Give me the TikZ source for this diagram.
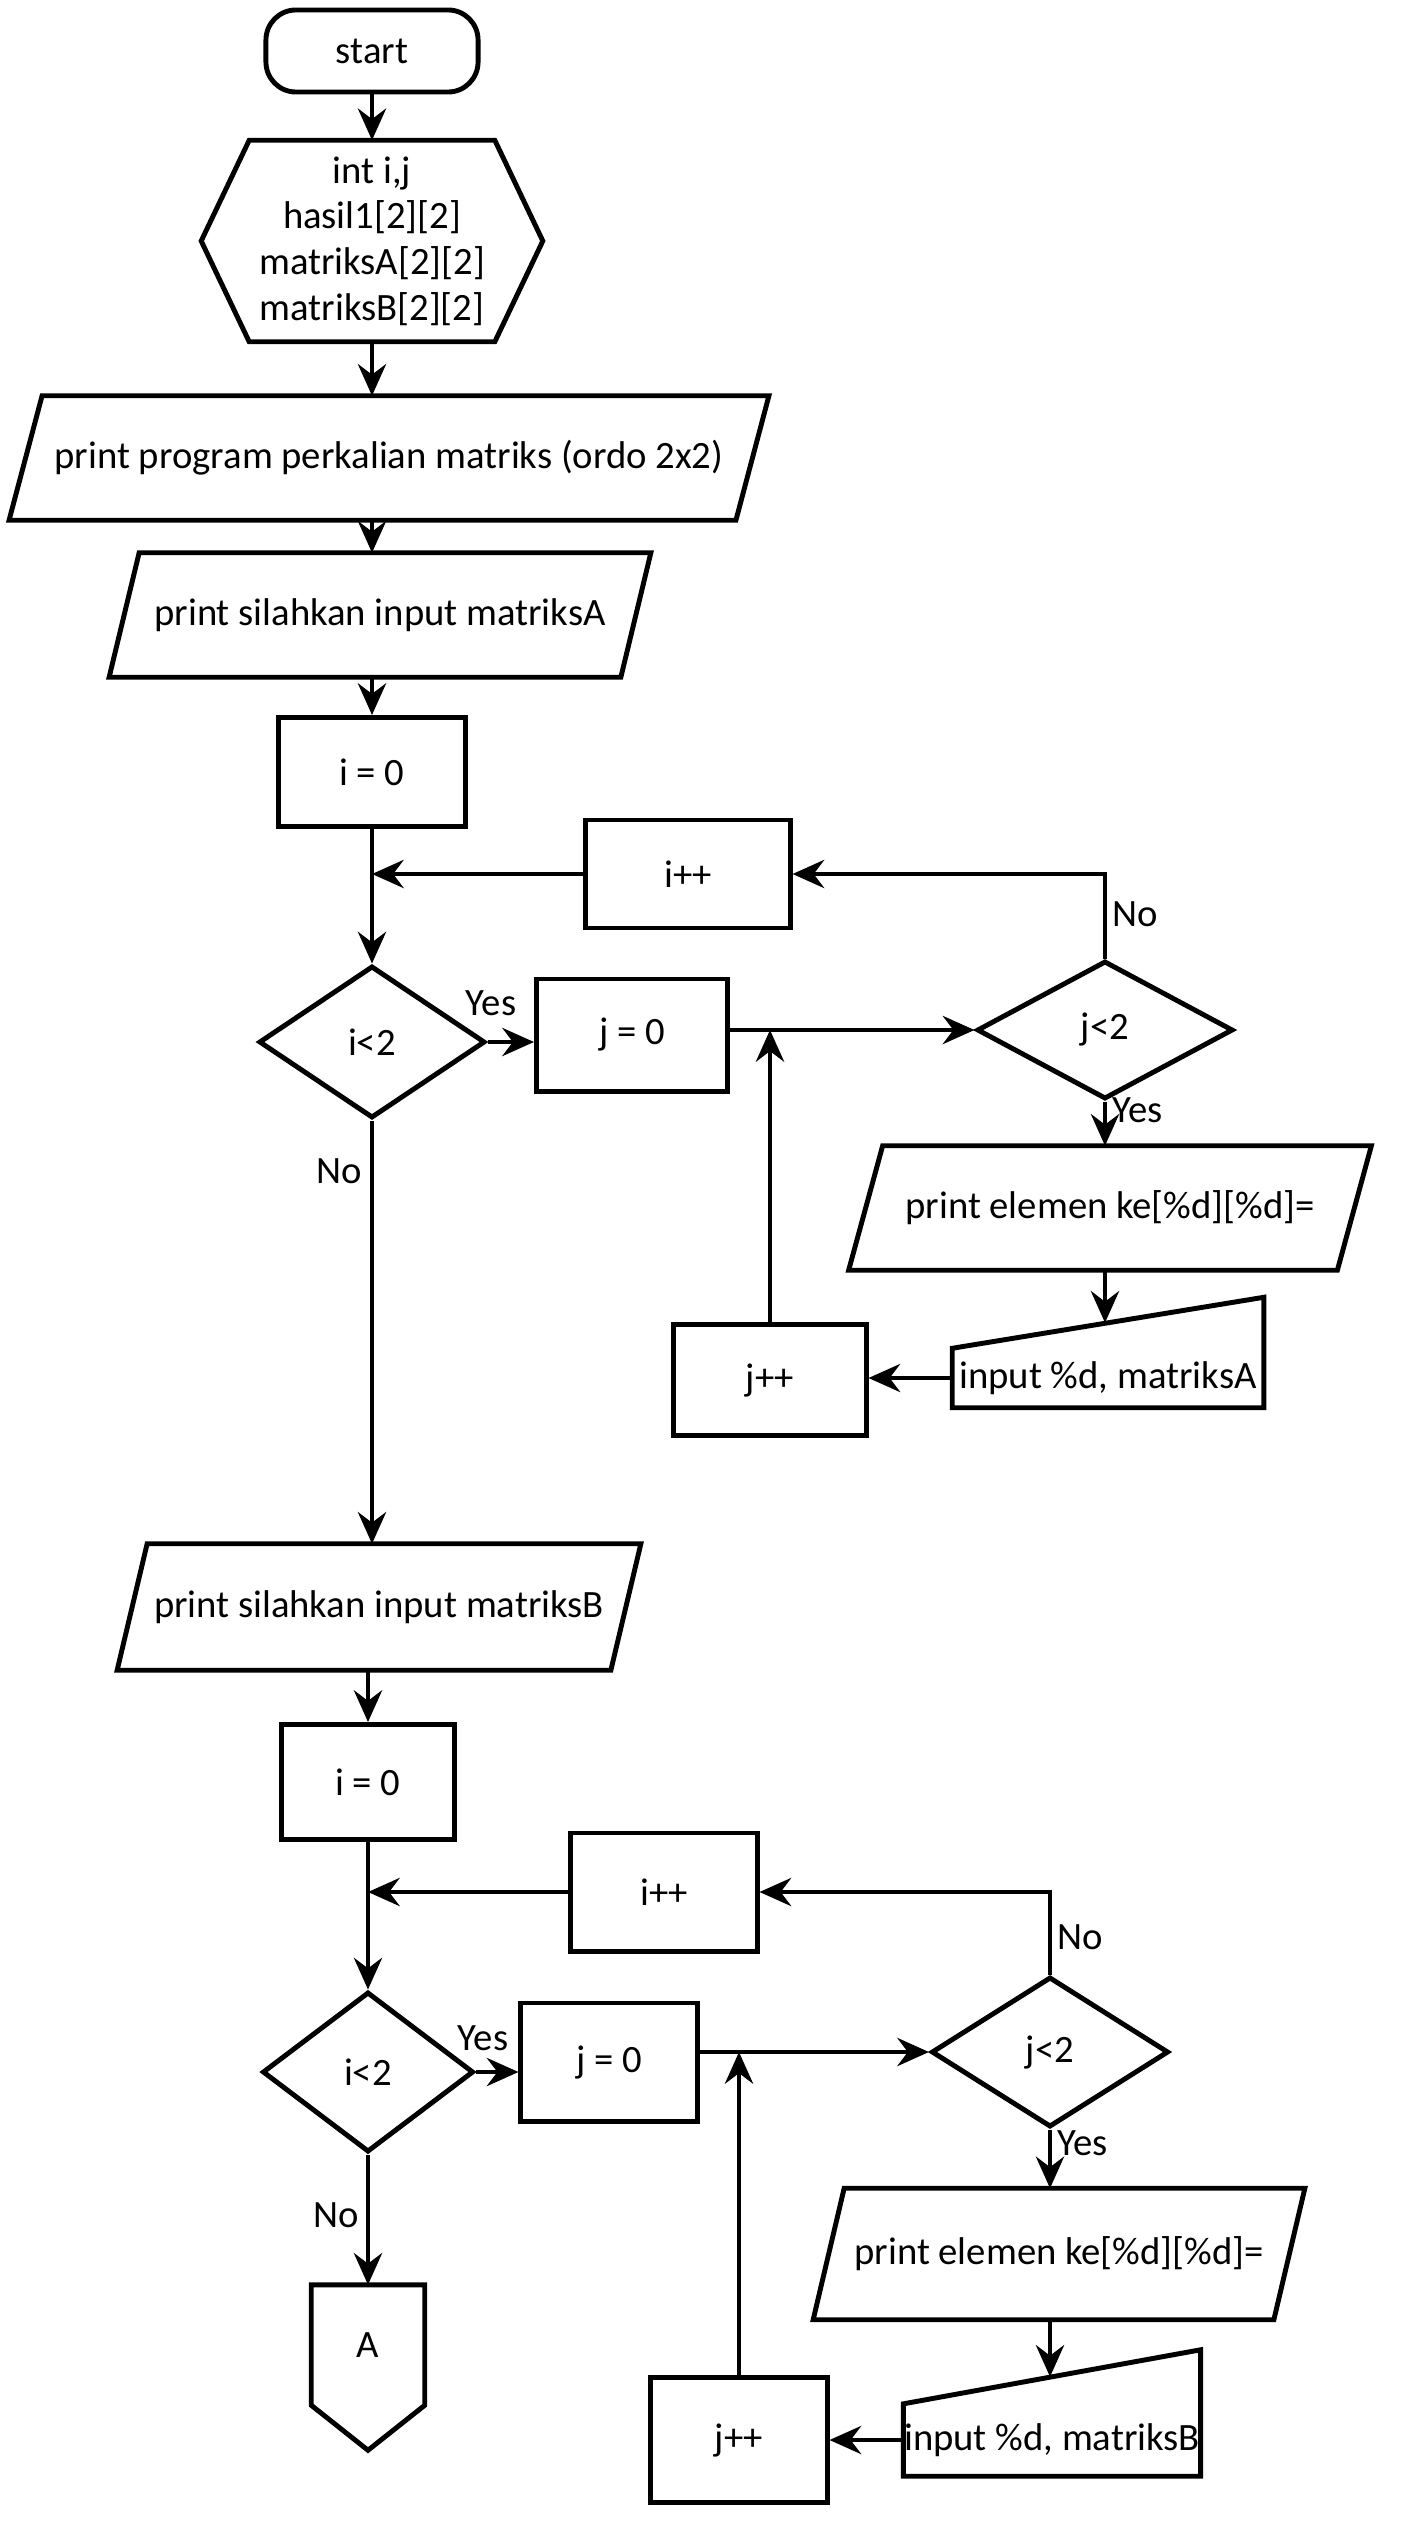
\documentclass[tikz,border=0pt]{standalone}
\usepackage{fontspec}
\setmainfont{Carlito}
\usetikzlibrary{arrows.meta,shapes.geometric,calc}
\begin{document}
\begin{tikzpicture}[x=0.01cm,y=-0.01cm,
  every node/.style={font=\fontsize{11}{13}\selectfont},
  frame/.style={line width=1.4pt, line join=miter},
  hold/.style={rectangle, inner sep=0pt, align=center},
  proc/.style={hold, draw, frame},
  term/.style={proc, rounded corners=0.3cm},
  dec/.style={diamond, draw, frame, inner sep=0pt},
  arr/.style={line width=1.3pt, -{Stealth[length=9pt,width=8pt,inset=3pt]}},
  lbl/.style={inner sep=1pt}]
\useasboundingbox (0,0) rectangle (1404,2540);
\fill[white] (0,0) rectangle (1404,2540);

% ---------- top ----------
\node[term, minimum width=2.12cm, minimum height=0.82cm] (start) at (372,51) {start};

\node[hold, minimum width=3.4cm, minimum height=2cm] (prep) at (372,241) {int i,j\\hasil1[2][2]\\matriksA[2][2]\\matriksB[2][2]};
\draw[frame] (prep.west) -- ($(prep.north west)+(48,0)$) -- ($(prep.north east)+(-48,0)$) -- (prep.east) -- ($(prep.south east)+(-48,0)$) -- ($(prep.south west)+(48,0)$) -- cycle;

\node[hold, minimum width=7.58cm, minimum height=1.23cm] (p1) at (389,458) {print program perkalian matriks (ordo 2x2)};
\draw[frame] (p1.south west) -- ($(p1.north west)+(33,0)$) -- (p1.north east) -- ($(p1.south east)+(-33,0)$) -- cycle;

\node[hold, minimum width=5.4cm, minimum height=1.23cm] (p2) at (380,615) {print silahkan input matriksA};
\draw[frame] (p2.south west) -- ($(p2.north west)+(30,0)$) -- (p2.north east) -- ($(p2.south east)+(-30,0)$) -- cycle;

% ---------- loop A ----------
\node[proc, minimum width=1.86cm, minimum height=1.09cm] (i0) at (372,772) {i = 0};
\node[proc, minimum width=2.04cm, minimum height=1.08cm] (ip) at (688,874) {i++};
\node[dec, minimum width=2.26cm, minimum height=1.52cm] (ic) at (372,1042) {i<2};
\node[proc, minimum width=1.91cm, minimum height=1.12cm] (j0) at (632,1035) {j = 0};
\node[dec, minimum width=2.56cm, minimum height=1.38cm] (jc) at (1105,1030) {j<2};

\node[hold, minimum width=5.21cm, minimum height=1.23cm] (pA) at (1110,1208) {print elemen ke[\%d][\%d]=};
\draw[frame] (pA.south west) -- ($(pA.north west)+(34,0)$) -- (pA.north east) -- ($(pA.south east)+(-34,0)$) -- cycle;

\node[hold, minimum width=3.1cm, minimum height=0.58cm] (inA) at (1108,1378) {input \%d, matriksA};
\coordinate (inAtr) at ($(inA.north east)+(0,-51)$);
\coordinate (inAtop) at ($(inA.north west)!0.5!(inAtr)$);
\draw[frame] (inA.south west) -- (inA.south east) -- (inAtr) -- (inA.north west) -- cycle;

\node[proc, minimum width=1.92cm, minimum height=1.11cm] (jA) at (770,1380) {j++};

% ---------- second part ----------
\node[hold, minimum width=5.22cm, minimum height=1.25cm] (p3) at (379,1607) {print silahkan input matriksB};
\draw[frame] (p3.south west) -- ($(p3.north west)+(30,0)$) -- (p3.north east) -- ($(p3.south east)+(-30,0)$) -- cycle;

\node[proc, minimum width=1.73cm, minimum height=1.15cm] (i0b) at (368,1782) {i = 0};
\node[proc, minimum width=1.86cm, minimum height=1.18cm] (ipb) at (664,1892) {i++};
\node[dec, minimum width=2.11cm, minimum height=1.6cm] (icb) at (368,2072) {i<2};
\node[proc, minimum width=1.76cm, minimum height=1.18cm] (j0b) at (609,2062) {j = 0};
\node[dec, minimum width=2.37cm, minimum height=1.5cm] (jcb) at (1050,2052) {j<2};

\node[hold, minimum width=4.9cm, minimum height=1.3cm] (pB) at (1059,2254) {print elemen ke[\%d][\%d]=};
\draw[frame] (pB.south west) -- ($(pB.north west)+(31,0)$) -- (pB.north east) -- ($(pB.south east)+(-31,0)$) -- cycle;

\node[hold, minimum width=2.88cm, minimum height=0.71cm] (inB) at (1052,2440) {input \%d, matriksB};
\coordinate (inBtr) at ($(inB.north east)+(0,-54)$);
\coordinate (inBtop) at ($(inB.north west)!0.5!(inBtr)$);
\draw[frame] (inB.south west) -- (inB.south east) -- (inBtr) -- (inB.north west) -- cycle;

\node[proc, minimum width=1.76cm, minimum height=1.25cm] (jB) at (739,2440) {j++};

\node[hold, minimum width=1.12cm, minimum height=1.19cm] (A) at (368,2345) {A};
\draw[frame] (A.north west) -- (A.north east) -- (A.south east) -- ($(A.south)+(0,45)$) -- (A.south west) -- cycle;

% ---------- connectors, top ----------
\draw[arr] (start.south) -- (prep.north);
\draw[arr] (prep.south) -- (prep.south |- p1.north);
\draw[arr] (prep.south |- p1.south) -- (prep.south |- p2.north);
\draw[arr] (prep.south |- p2.south) -- (i0.north);

% ---------- connectors, loop A ----------
\draw[arr] (i0.south) -- (ic.north);
\draw[arr] (ip.west) -- (ic.north |- ip.west);
\draw[arr] (ic.east) -- (ic.east -| j0.west);
\node[lbl] (yesA1) at (491,1003) {Yes};
\draw[arr] (j0.east |- jc.west) -- (jc.west);
\draw[arr] (jc.north) |- (ip.east);
\node[lbl, anchor=west] (noA2) at (1108,914) {No};
\draw[arr] (jc.south) -- (jc.south |- pA.north);
\node[lbl, anchor=west] (yesA2) at (1108,1110) {Yes};
\draw[arr] (jc.south |- pA.south) -- (jc.south |- inAtop);
\draw[arr] (inA.west) -- (inA.west -| jA.east);
\draw[arr] (jA.north) -- (jA.north |- jc.west);
\draw[arr] (ic.south) -- (ic.south |- p3.north);
\node[lbl, anchor=east] (noA1) at (366,1171) {No};

% ---------- connectors, loop B ----------
\draw[arr] (i0b.north |- p3.south) -- (i0b.north);
\draw[arr] (i0b.south) -- (icb.north);
\draw[arr] (ipb.west) -- (icb.north |- ipb.west);
\draw[arr] (icb.east) -- (icb.east -| j0b.west);
\node[lbl] (yesB1) at (483,2038) {Yes};
\draw[arr] (j0b.east |- jcb.west) -- (jcb.west);
\draw[arr] (jcb.north) |- (ipb.east);
\node[lbl, anchor=west] (noB2) at (1053,1937) {No};
\draw[arr] (jcb.south) -- (jcb.south |- pB.north);
\node[lbl, anchor=west] (yesB2) at (1053,2143) {Yes};
\draw[arr] (jcb.south |- pB.south) -- (jcb.south |- inBtop);
\draw[arr] (inB.west) -- (inB.west -| jB.east);
\draw[arr] (jB.north) -- (jB.north |- jcb.west);
\draw[arr] (icb.south) -- (A.north);
\node[lbl, anchor=east] (noB1) at (363,2215) {No};
\end{tikzpicture}
\end{document}
